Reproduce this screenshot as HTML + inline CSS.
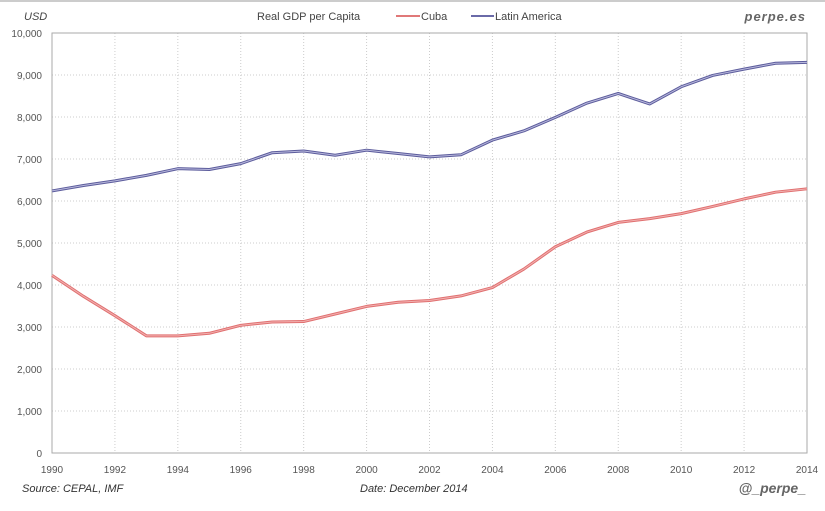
<!DOCTYPE html>
<html><head><meta charset="utf-8"><style>
body{margin:0;background:#fff;width:825px;height:506px;overflow:hidden;font-family:"Liberation Sans",sans-serif}
svg text{font-family:"Liberation Sans",sans-serif}
</style></head><body>
<svg id="c" width="825" height="506">
<rect x="0" y="0" width="825" height="506" fill="#fff"/>
<line x1="0" y1="1" x2="825" y2="1" stroke="#ccc" stroke-width="2"/>
<g id="grid"></g>
<rect x="52" y="33" width="755" height="420" fill="none" stroke="#aaa" stroke-width="1"/>
<g id="series"></g>
<g id="labels" font-size="10" fill="#555"></g>
<text x="24" y="20" font-size="11" font-style="italic" fill="#444">USD</text>
<text x="257" y="20" font-size="11" fill="#444">Real GDP per Capita</text>
<line x1="396" y1="16" x2="420" y2="16" stroke="#e07878" stroke-width="2"/>
<text x="421" y="20" font-size="11" fill="#444">Cuba</text>
<line x1="471" y1="16" x2="494" y2="16" stroke="#6a6aa8" stroke-width="2"/>
<text x="495" y="20" font-size="11" fill="#444">Latin America</text>
<text x="806" y="21" font-size="13" font-style="italic" font-weight="bold" fill="#666" text-anchor="end" letter-spacing="1">perpe.es</text>
<text x="22" y="492" font-size="11" font-style="italic" fill="#333">Source: CEPAL, IMF</text>
<text x="360" y="492" font-size="11" font-style="italic" fill="#333">Date: December 2014</text>
<text x="806" y="493" font-size="14" font-style="italic" font-weight="bold" fill="#666" text-anchor="end">@_perpe_</text>
</svg>
<script>
const years=[1990,1991,1992,1993,1994,1995,1996,1997,1998,1999,2000,2001,2002,2003,2004,2005,2006,2007,2008,2009,2010,2011,2012,2013,2014];
const cuba=[4230,3730,3270,2790,2790,2850,3040,3120,3130,3310,3490,3590,3630,3740,3940,4380,4910,5260,5490,5580,5700,5870,6050,6210,6290];
const latam=[6240,6370,6480,6610,6770,6750,6890,7150,7190,7090,7210,7130,7050,7100,7450,7670,7990,8330,8560,8310,8720,8990,9140,9280,9300];
const yTicks=[0,1000,2000,3000,4000,5000,6000,7000,8000,9000,10000];
const xTicks=[1990,1992,1994,1996,1998,2000,2002,2004,2006,2008,2010,2012,2014];
const NS='http://www.w3.org/2000/svg';
const X=v=>52+(v-1990)/24*755;
const Y=v=>453-v/10000*420;
function mk(t,a,p){const e=document.createElementNS(NS,t);for(const k in a)e.setAttribute(k,a[k]);p.appendChild(e);return e;}
const g=document.getElementById('grid'),L=document.getElementById('labels'),S=document.getElementById('series');
yTicks.forEach(v=>{
 const l=mk('line',{x1:52,x2:807,y1:Y(v),y2:Y(v),stroke:'#ccc','stroke-dasharray':'1,2'},g);
 
 
 const t=mk('text',{x:42,y:Y(v)+4,'text-anchor':'end'},L);t.textContent=v.toLocaleString('en-US');
 
 
});
xTicks.forEach(v=>{
 const l=mk('line',{x1:X(v),x2:X(v),y1:33,y2:453,stroke:'#ccc','stroke-dasharray':'1,2'},g);
 
 
 const t=mk('text',{x:X(v),y:473,'text-anchor':'middle'},L);t.textContent=v;
 
 
});
function line(data,outer,inner,name){
 const pts=data.map((v,i)=>X(years[i])+','+Y(v)).join(' ');
 const a=mk('polyline',{points:pts,fill:'none',stroke:outer,'stroke-width':3,'stroke-linejoin':'round'},S);
 
 
 const b=mk('polyline',{points:pts,fill:'none',stroke:inner,'stroke-width':1,'stroke-linejoin':'round'},S);
 
 
}
line(latam,'#5c5c9c','#b8b8dc','latin-america-line');
line(cuba,'#e07070','#f2b0b0','cuba-line');
</script>
</body></html>
